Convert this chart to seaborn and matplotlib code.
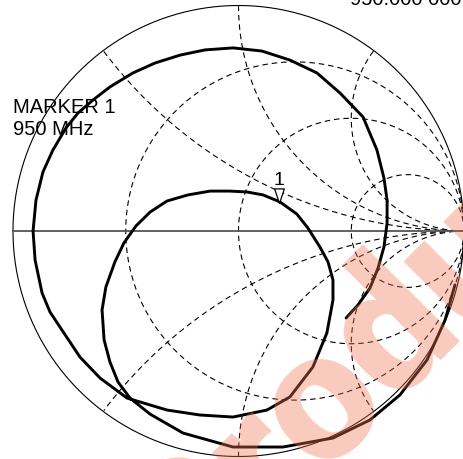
import numpy as np
import matplotlib
matplotlib.use("Agg")
import matplotlib.pyplot as plt
import matplotlib.transforms as mtransforms
import seaborn as sns
import pandas as pd

sns.set_theme(style="white")
plt.rcParams['font.family'] = ['Liberation Sans', 'DejaVu Sans']

# Smith chart grid values
resistance_circles = [1/3, 1, 3]
reactance_arcs = [0.5, 1, 2, -0.5, -1, -2]

# Measured reflection coefficient trace (real / imaginary parts of Gamma)
gamma_re = [0.477, 0.530, 0.583, 0.619, 0.645, 0.659, 0.659, 0.645, 0.614, 0.552,
            0.450, 0.348, 0.228, 0.104, -0.024, -0.149, -0.259, -0.370, -0.468, -0.570,
            -0.645, -0.712, -0.765, -0.823, -0.867, -0.898, -0.911, -0.902, -0.871, -0.836,
            -0.783, -0.703, -0.614, -0.494, -0.317, -0.171, -0.024, 0.126, 0.228, 0.330,
            0.392, 0.419, 0.419, 0.397, 0.361, 0.308, 0.259, 0.184, 0.109, 0.038,
            -0.038, -0.126, -0.224, -0.317, -0.392, -0.455, -0.508, -0.548, -0.588, -0.605,
            -0.596, -0.570, -0.534, -0.481, -0.392, -0.246, -0.024, 0.197, 0.419, 0.583,
            0.716, 0.836, 0.916, 0.960]
gamma_im = [-0.386, -0.328, -0.253, -0.164, -0.071, 0.035, 0.137, 0.235, 0.359, 0.506,
            0.612, 0.701, 0.758, 0.798, 0.812, 0.803, 0.780, 0.745, 0.701, 0.639,
            0.581, 0.523, 0.457, 0.359, 0.262, 0.137, 0.000, -0.129, -0.275, -0.359,
            -0.439, -0.559, -0.652, -0.741, -0.794, -0.816, -0.825, -0.794, -0.736, -0.603,
            -0.452, -0.306, -0.217, -0.137, -0.071, 0.013, 0.075, 0.129, 0.160, 0.173,
            0.177, 0.177, 0.160, 0.133, 0.084, 0.022, -0.053, -0.137, -0.248, -0.350,
            -0.483, -0.581, -0.670, -0.741, -0.812, -0.896, -0.958, -0.958, -0.918, -0.838,
            -0.727, -0.572, -0.395, -0.239]

marker_re = [0.180]
marker_im = [0.124]
marker_label = "1"
marker_lines = ["MARKER 1", "950 MHz"]
freq_text = "950.000 000 MHz"
watermark = "Product"

fig = plt.figure(figsize=(4.63, 4.59), dpi=100)
ax = fig.add_axes([0, 0, 1, 1])
ax.set_xlim(-1.0576, 0.9956)
ax.set_ylim(-1.0111, 1.0244)
ax.set_axis_off()

dash = (0, (5, 3.5))
t = np.linspace(0, 2 * np.pi, 721)

# constant resistance circles
for r in resistance_circles:
    c = r / (1 + r)
    rad = 1 / (1 + r)
    ax.plot(c + rad * np.cos(t), rad * np.sin(t), color='black', lw=0.8, ls=dash, zorder=1)

# constant reactance arcs (only the part inside the unit circle)
for xv in reactance_arcs:
    cy = 1 / xv
    rad = 1 / abs(xv)
    px = 1 + rad * np.cos(t)
    py = cy + rad * np.sin(t)
    inside = px ** 2 + py ** 2 <= 1.0001
    px = np.where(inside, px, np.nan)
    py = np.where(inside, py, np.nan)
    ax.plot(px, py, color='black', lw=0.8, ls=dash, zorder=1)

# outer circle and real axis
ax.plot(np.cos(t), np.sin(t), color='black', lw=0.8, zorder=2)
ax.plot([-1, 1], [0, 0], color='#555555', lw=1.3, zorder=2)

# trace
df = pd.DataFrame({"re": gamma_re, "im": gamma_im})
sns.lineplot(data=df, x="re", y="im", sort=False, estimator=None, color='black',
             lw=2.1, ax=ax, zorder=3)

# marker triangle (tip at the point)
tri = [(0, 0), (-1 / 3, 1), (1 / 3, 1), (0, 0)]
ax.plot(marker_re, marker_im, ls='none', marker=tri, markersize=21, mfc='white',
        mec='black', mew=0.9, zorder=4)
off = mtransforms.offset_copy(ax.transData, fig=fig, x=0, y=18, units='dots')
ax.text(marker_re[0], marker_im[0], marker_label, transform=off, ha='center',
        va='baseline', fontsize=14, color='black', zorder=4)

ax.text(-1.0, 0.523, marker_lines[0], fontsize=14.5, color='black', ha='left', va='baseline', zorder=5)
ax.text(-1.0, 0.426, marker_lines[1], fontsize=14.5, color='black', ha='left', va='baseline', zorder=5)
ax.text(0.494, 1.002, freq_text, fontsize=14.5, color='black', ha='left', va='baseline', zorder=5)

ax.text(0.636, -0.479, watermark, fontsize=130, fontweight='heavy', rotation=45,
        ha='center', va='center', rotation_mode='anchor',
        family=['Roboto', 'Liberation Sans'],
        color=(240 / 255, 117 / 255, 82 / 255), alpha=0.376, zorder=6)

fig.savefig('out.png', dpi=100)
